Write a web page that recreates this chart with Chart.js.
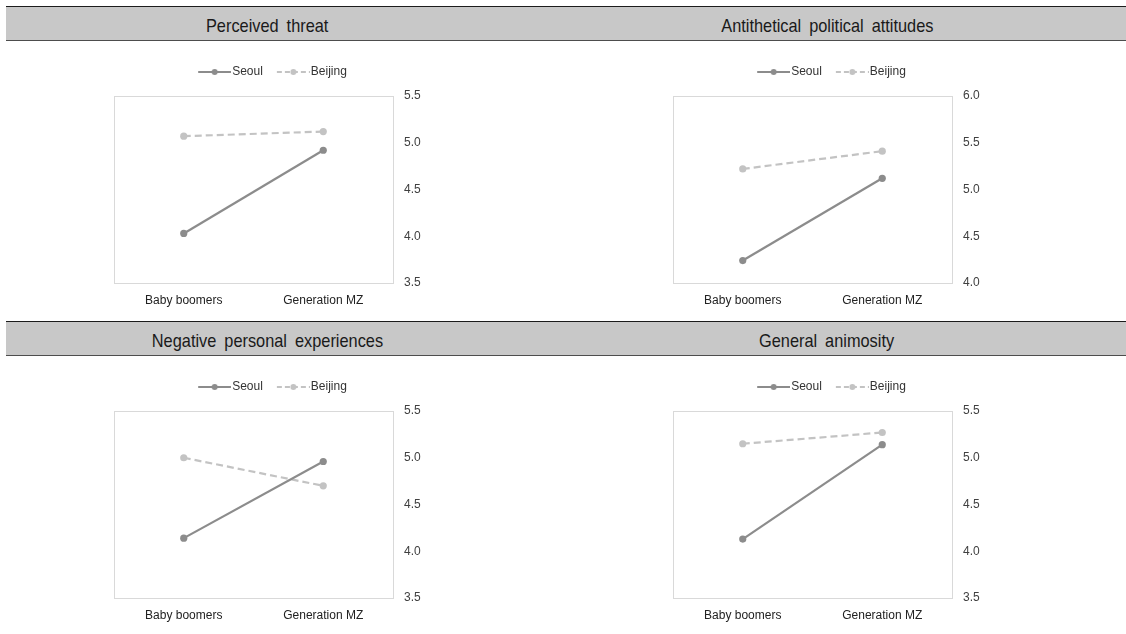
<!DOCTYPE html>
<html>
<head>
<meta charset="utf-8">
<script src="https://cdn.jsdelivr.net/npm/chart.js@4"></script>
<style>
body{margin:0;background:#fff;width:1126px;height:634px;position:relative;overflow:hidden;font-family:"Liberation Sans",Arial,sans-serif;}
.cabecera{position:absolute;left:6px;right:0;height:33px;background:#c8c8c8;border-top:1.5px solid #1c1c1c;border-bottom:1.5px solid #4d4d4d;}
.titulo{position:absolute;top:0;height:33px;line-height:37px;width:400px;margin-left:-200px;text-align:center;font-size:19px;color:#1a1a1a;}
.titulo span{display:inline-block;transform:scaleX(0.86);word-spacing:4px;}
.panel{position:absolute;width:340px;height:265px;}
</style>
</head>
<body>
<div class="cabecera" style="top:6px;">
    <div class="titulo" style="left:261px;"><span id="t0"></span></div>
    <div class="titulo" style="left:821px;"><span id="t1"></span></div>
</div>
<div class="cabecera" style="top:321px;">
    <div class="titulo" style="left:261px;"><span id="t2"></span></div>
    <div class="titulo" style="left:821px;"><span id="t3"></span></div>
</div>
<div class="panel" style="left:104px;top:50px;"><canvas id="g0" width="340" height="265"></canvas></div>
<div class="panel" style="left:663px;top:50px;"><canvas id="g1" width="340" height="265"></canvas></div>
<div class="panel" style="left:104px;top:365px;"><canvas id="g2" width="340" height="265"></canvas></div>
<div class="panel" style="left:663px;top:365px;"><canvas id="g3" width="340" height="265"></canvas></div>
<script>
//datos
const categorias=['Baby boomers','Generation MZ'];
const series=['Seoul','Beijing'];
const titulos=['Perceived threat','Antithetical political attitudes','Negative personal experiences','General animosity'];

const amenazaSeoul=[4.03,4.92];
const amenazaBeijing=[5.07,5.12];
const politicaSeoul=[4.24,5.12];
const politicaBeijing=[5.22,5.41];
const experienciaSeoul=[4.14,4.96];
const experienciaBeijing=[5.00,4.70];
const animosidadSeoul=[4.13,5.14];
const animosidadBeijing=[5.15,5.27];

const ejeMin=[3.5,4.0,3.5,3.5];
const ejeMax=[5.5,6.0,5.5,5.5];

const colorSeoul='#8c8c8c';
const colorBeijing='#c3c3c3';

//muestra de leyenda: linea + punto (margen izquierdo transparente)
function crearMuestra(color,dash)
{
    const c=document.createElement('canvas');
    c.width=42;c.height=10;
    const x=c.getContext('2d');
    x.strokeStyle=color;x.lineWidth=2;
    x.setLineDash(dash);
    x.beginPath();x.moveTo(9,5);x.lineTo(42,5);x.stroke();
    x.setLineDash([]);
    x.fillStyle=color;
    x.beginPath();x.arc(25.5,5,3,0,Math.PI*2);x.fill();
    return c;
}
const muestras=[crearMuestra(colorSeoul,[]),crearMuestra(colorBeijing,[5,3])];

//marco del area de trazado
const marco={
    id:'marco',
    beforeDatasetsDraw(chart)
    {
        const a=chart.chartArea;
        const ctx=chart.ctx;
        ctx.save();
        ctx.strokeStyle='#d9d9d9';
        ctx.lineWidth=1;
        ctx.strokeRect(Math.round(a.left)+0.5,Math.round(a.top)+0.5,Math.round(a.right-a.left),Math.round(a.bottom-a.top));
        ctx.restore();
    }
};

//espacio extra entre leyenda y grafico
const separarLeyenda={
    id:'separarLeyenda',
    beforeUpdate(chart)
    {
        const l=chart.legend;
        if(l&&!l._extra)
        {
            const f=l.fit.bind(l);
            l.fit=function(){f();this.height+=8;};
            l._extra=true;
        }
    }
};

function crearGrafico(id,seoul,beijing,min,max)
{
    return new Chart(document.getElementById(id),{
        type:'line',
        data:{
            labels:categorias,
            datasets:[
                {label:series[0],data:seoul,borderColor:colorSeoul,backgroundColor:colorSeoul,borderWidth:2.2,pointRadius:3.6,pointBackgroundColor:colorSeoul,pointBorderWidth:0},
                {label:series[1],data:beijing,borderColor:colorBeijing,backgroundColor:colorBeijing,borderWidth:2.2,borderDash:[7,4],pointRadius:3.6,pointBackgroundColor:colorBeijing,pointBorderWidth:0}
            ]
        },
        options:{
            responsive:false,
            animation:false,
            layout:{padding:{left:10,right:17,top:6,bottom:2}},
            plugins:{
                tooltip:{enabled:false},
                legend:{
                    position:'top',
                    labels:{
                        usePointStyle:true,
                        pointStyleWidth:32,
                        padding:10,
                        color:'#333',
                        font:{family:'"Liberation Sans",Arial,sans-serif',size:12},
                        generateLabels:function(chart)
                        {
                            const items=Chart.defaults.plugins.legend.labels.generateLabels(chart);
                            items.forEach((it,i)=>{it.pointStyle=muestras[i];});
                            return items;
                        }
                    }
                }
            },
            scales:{
                x:{
                    offset:true,
                    grid:{display:false,drawTicks:false},
                    border:{display:false},
                    ticks:{color:'#222',font:{family:'"Liberation Sans",Arial,sans-serif',size:12},padding:10},
                    afterFit:function(s){s.height=30;}
                },
                y:{
                    position:'right',
                    min:min,max:max,
                    grid:{display:false,drawTicks:false},
                    border:{display:false},
                    ticks:{stepSize:0.5,padding:11,color:'#404040',font:{family:'"Liberation Sans",Arial,sans-serif',size:12},
                        callback:function(v){return Number(v).toFixed(1);}},
                    afterFit:function(s){s.width=34;}
                }
            }
        },
        plugins:[marco,separarLeyenda]
    });
}

document.addEventListener("DOMContentLoaded",function()
{
    titulos.forEach((t,i)=>{document.getElementById('t'+i).textContent=t;});
    crearGrafico('g0',amenazaSeoul,amenazaBeijing,ejeMin[0],ejeMax[0]);
    crearGrafico('g1',politicaSeoul,politicaBeijing,ejeMin[1],ejeMax[1]);
    crearGrafico('g2',experienciaSeoul,experienciaBeijing,ejeMin[2],ejeMax[2]);
    crearGrafico('g3',animosidadSeoul,animosidadBeijing,ejeMin[3],ejeMax[3]);
});
</script>
</body>
</html>
